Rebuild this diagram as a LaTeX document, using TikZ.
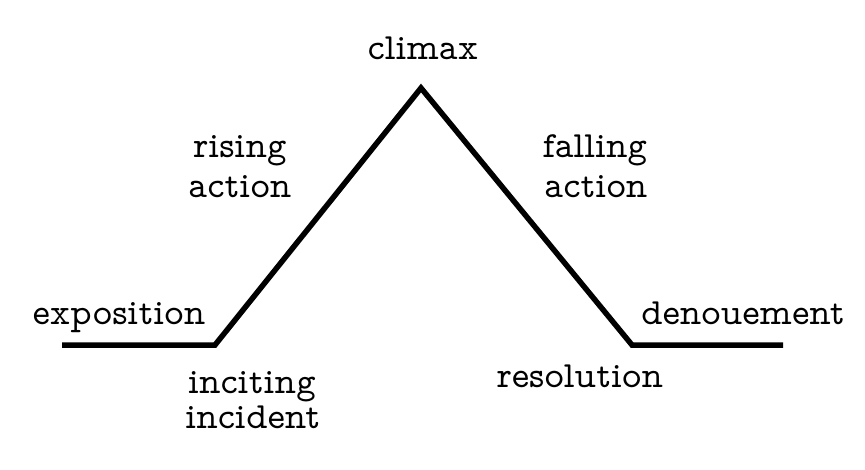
\documentclass[tikz,border=0pt]{standalone}
\usepackage{fontspec}
\newfontfamily\propf{Latin Modern Mono Prop}
\begin{document}
\begin{tikzpicture}[x=1pt,y=-1pt,
  lbl/.style={font=\propf\fontsize{37}{42}\selectfont, inner sep=0pt, anchor=base, align=center},
  arc/.style={line width=5.5pt, line join=miter, line cap=butt}]
\useasboundingbox (0,0) rectangle (865,469);
\coordinate (s) at (62,345);
\coordinate (inc) at (215,345);
\coordinate (pk) at (421,88);
\coordinate (res) at (632,345);
\coordinate (e) at (783,345);
\draw[arc] (s) -- (inc) -- (pk) -- (res) -- (e);
\node[lbl] (climax) at (423,59) {climax};
\node[lbl] (rise1) at (240,157) {rising};
\node[lbl] (rise2) at (240,197) {action};
\node[lbl] (fall1) at (595,157) {falling};
\node[lbl] (fall2) at (596,197) {action};
\node[lbl] (expo) at (119,324) {exposition};
\node[lbl] (deno) at (743,324) {denouement};
\node[lbl] (inc1) at (252,393) {inciting};
\node[lbl] (inc2) at (253,428) {incident};
\node[lbl] (reso) at (580,387) {resolution};
\end{tikzpicture}
\end{document}
